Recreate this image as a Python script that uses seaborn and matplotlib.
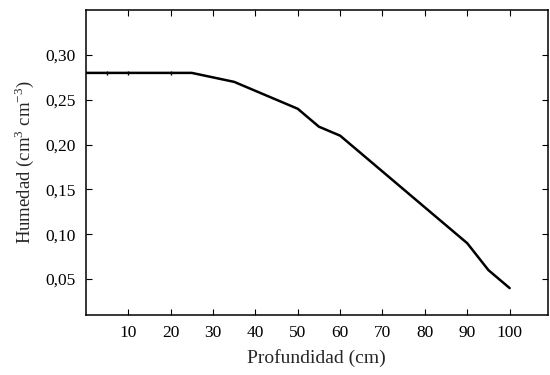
import numpy as np
import pandas as pd
import seaborn as sns
from matplotlib import pyplot as plt

depth = [0, 5, 10, 20, 25, 35, 50, 55, 60, 90, 95, 100]
moisture = [0.28, 0.28, 0.28, 0.28, 0.28, 0.27, 0.24, 0.22, 0.21, 0.09, 0.06, 0.04]

x_ticks = [10, 20, 30, 40, 50, 60, 70, 80, 90, 100]
y_ticks = [0.05, 0.10, 0.15, 0.20, 0.25, 0.30]
y_tick_labels = ["0,05", "0,10", "0,15", "0,20", "0,25", "0,30"]

df = pd.DataFrame({"depth": depth, "moisture": moisture})

sns.set_style("ticks")
plt.rcParams['font.family'] = ['Liberation Serif', 'DejaVu Serif']
plt.rcParams['mathtext.fontset'] = 'custom'
plt.rcParams['mathtext.rm'] = 'Liberation Serif'

fig = plt.figure(figsize=(5.5, 3.75), dpi=100)
ax = fig.add_axes([0.156, 0.16, 0.84, 0.813])

# small tick-like markers only show on the flat part in the original
sns.lineplot(data=df, x="depth", y="moisture", ax=ax, color="black", linewidth=1.8,
             marker="|", markersize=3, markeredgewidth=1.0, markeredgecolor="black",
             markevery=[1, 2, 3])

ax.set_xlim(0, 109)
ax.set_ylim(0.01, 0.35)
ax.set_xticks(x_ticks)
ax.set_xticklabels([str(v) for v in x_ticks])
ax.set_yticks(y_ticks)
ax.set_yticklabels(y_tick_labels)

ax.tick_params(direction="in", length=4, width=0.8, top=True, right=True,
               labelsize=12.5, colors="black", pad=7)
for s in ax.spines.values():
    s.set_linewidth(1.1)
    s.set_color("black")

ax.set_xlabel("Profundidad (cm)", fontsize=14, labelpad=6)
ax.set_ylabel("Humedad (cm$^{3}$ cm$^{-3}$)", fontsize=13.5, labelpad=7)

plt.savefig("out.png", dpi=100)
